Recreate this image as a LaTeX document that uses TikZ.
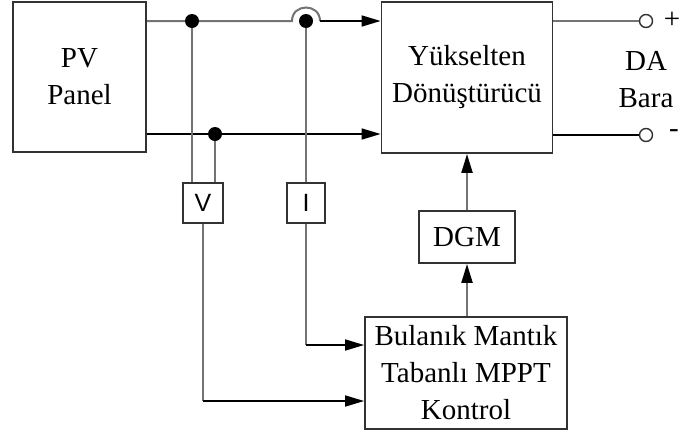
\documentclass[tikz,border=0pt]{standalone}
\usepackage{fontspec}
\setmainfont{Liberation Serif}
\newfontfamily\sansf{Liberation Sans}
\usetikzlibrary{arrows.meta}
\definecolor{lg}{RGB}{115,115,115}
\definecolor{bx}{RGB}{50,50,50}
\pgfdeclarelayer{bg}
\pgfsetlayers{bg,main}
\begin{document}
\begin{tikzpicture}[x=1pt,y=-1pt,
  box/.style={draw=bx,line width=1.8pt,fill=white,inner sep=0pt,align=center,font=\fontsize{29}{37}\selectfont},
  sbox/.style={draw=bx,line width=1.6pt,fill=white,inner sep=0pt,font=\sansf\fontsize{25}{28}\selectfont},
  gl/.style={draw=lg,line width=2pt},
  bl/.style={draw=black,line width=1.7pt},
  arr/.style={-{Triangle[length=19pt,width=11pt,color=black]}},
  dot/.style={circle,fill=black,inner sep=0pt,minimum size=14pt},
  term/.style={circle,draw=bx,line width=1.4pt,fill=white,inner sep=0pt,minimum size=13pt},
  lbl/.style={font=\fontsize{29}{37}\selectfont,inner sep=0pt,align=center}]
\useasboundingbox (0,0) rectangle (684,437);
% blocks
\node[box,minimum width=133pt,minimum height=150pt] (pv) at (79.5,77) {PV\\Panel};
\node[box,minimum width=171pt,minimum height=151pt] (yk) at (467,77.5) {Yükselten\\Dönüştürücü};
\node[box,minimum width=96pt,minimum height=52pt] (dgm) at (467,237) {DGM};
\node[box,minimum width=202pt,minimum height=112pt] (fl) at (466,373) {Bulanık Mantık\\Tabanlı MPPT\\Kontrol};
\node[sbox,minimum width=40pt,minimum height=40pt] (v) at (203,203) {V};
\node[sbox,minimum width=38pt,minimum height=40pt] (i) at (306,203) {I};
% junctions
\node[dot] (j1) at (192,21) {};
\node[dot] (j2) at (215,134) {};
\node[dot] (j3) at (306,21) {};
\coordinate (hs) at (292,21);
\coordinate (he) at (320,21);
\coordinate (cv) at (203,401);
\coordinate (ci) at (306,345);
% terminals
\node[term] (o1) at (646,21) {};
\node[term] (o2) at (646,135) {};
\node[lbl] (plus) at (672,20) {+};
\node[lbl] (minus) at (674,134) {-};
\node[lbl] (da) at (646,80) {DA\\Bara};
% connectors
\begin{pgfonlayer}{bg}
\fill[white] (0,0) rectangle (684,437);
\draw[gl] (pv.east |- j1) -- (j1) -- (hs) .. controls (292,3) and (320,3) .. (he);
\draw[bl,arr] (he) -- (yk.west |- he);
\draw[bl,arr] (pv.east |- j2) -- (j2) -- (yk.west |- j2);
\draw[gl] (j1) -- (j1 |- v.north);
\draw[gl] (j2) -- (j2 |- v.north);
\draw[gl] (j3) -- (i.north);
\draw[gl] (v.south) -- (cv);
\draw[bl,arr] (cv) -- (fl.west |- cv);
\draw[gl] (i.south) -- (ci);
\draw[bl,arr] (ci) -- (fl.west |- ci);
\draw[gl,arr] (dgm.south |- fl.north) -- (dgm.south);
\draw[gl,arr] (dgm.north) -- (yk.south);
\draw[gl] (yk.east |- o1) -- (o1);
\draw[bl] (yk.east |- o2) -- (o2);
\end{pgfonlayer}
\end{tikzpicture}
\end{document}
